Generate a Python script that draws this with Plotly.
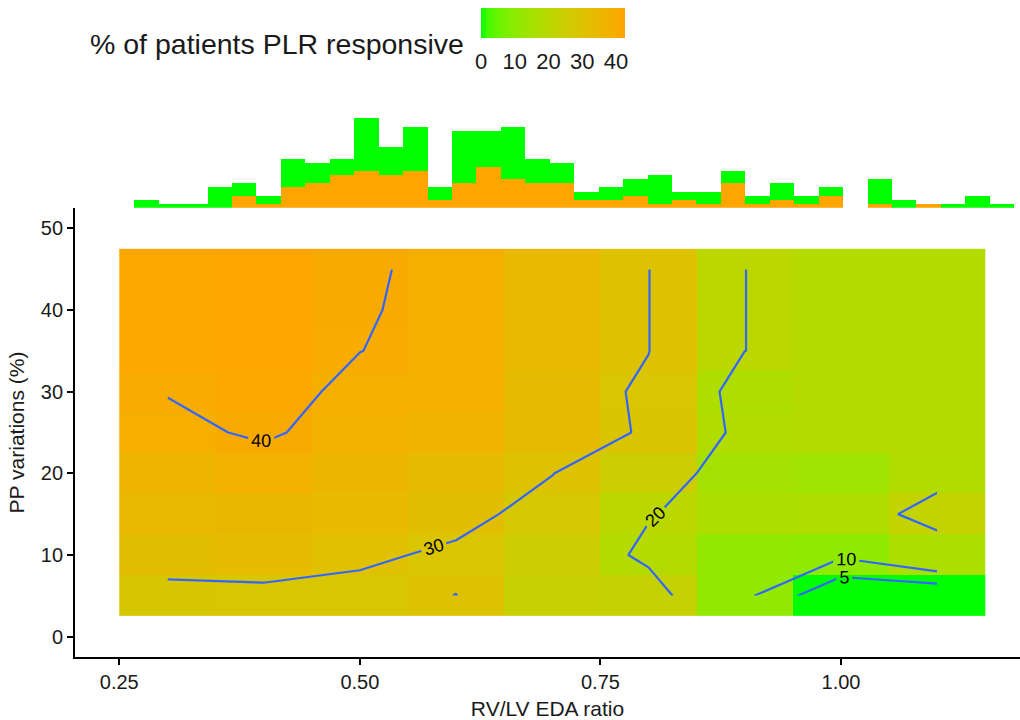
import plotly.graph_objects as go

# ---------------- data ----------------
x_ratio = [0.3, 0.4, 0.5, 0.6, 0.7, 0.8, 0.9, 1.0, 1.1]          # RV/LV EDA ratio (tile centres)
y_ppv = [5, 10, 15, 20, 25, 30, 35, 40, 45]                        # PP variations (%)
pct_responsive = [                                                  # rows = y_ppv, cols = x_ratio
    [28.3, 28.4, 28.5, 30.05, 23.5, 22.97, 11.1, 0.0, 0.0],
    [32.55, 33.4, 30.9, 29.1, 24.9, 18.7, 11.5, 10.87, 16.7],
    [34.5, 35.0, 34.0, 31.6, 28.0, 20.37, 16.7, 16.8, 22.2],
    [36.0, 38.1, 35.5, 33.0, 30.12, 25.0, 15.0, 14.0, 18.0],
    [38.97, 40.6, 38.1, 37.0, 33.2, 29.3, 17.7, 18.2, 18.6],
    [40.17, 41.8, 38.8, 38.5, 33.2, 29.0, 16.8, 18.5, 18.5],
    [41.5, 42.3, 40.05, 38.7, 34.5, 30.1, 20.02, 18.5, 18.5],
    [41.8, 42.7, 40.4, 38.7, 34.5, 30.1, 20.02, 18.5, 18.5],
    [41.8, 42.5, 40.6, 38.8, 34.5, 30.1, 20.02, 18.5, 18.5],
]
contour_main = dict(start=10, end=40, size=10)
contour_extra = 5

hist_bin_start = 0.2656
hist_bin_width = 0.0254
hist_total = [2, 1, 1, 5, 6, 3, 12, 11, 12, 22, 15, 20, 5, 19, 19, 20, 12, 11,
              4, 5, 7, 8, 4, 4, 9, 3, 6, 3, 5, 0, 7, 2, 1, 1, 3, 1]
hist_responsive = [0, 0, 0, 0, 3, 1, 5, 6, 8, 9, 8, 9, 2, 6, 10, 7, 6, 6,
                   2, 2, 3, 1, 2, 1, 6, 1, 2, 1, 3, 0, 1, 0, 1, 0, 0, 0]
hist_nonresp = [t - r for t, r in zip(hist_total, hist_responsive)]
hist_centres = [hist_bin_start + hist_bin_width * (i + 0.5) for i in range(len(hist_total))]

x_ticks = [0.25, 0.50, 0.75, 1.00]
y_ticks = [0, 10, 20, 30, 40, 50]
cb_ticks = [0, 10, 20, 30, 40]

LOW, HIGH = "#00FF00", "#FFA500"
RAMP_GAMMA = 0.92   # slight warm bias of the ramp, as seen in the tiles

# ---------------- Lab gradient (like ggplot scale_fill_gradient) ----------------
def _hex_to_lab(h):
    r, g, b = [int(h[i:i + 2], 16) / 255 for i in (1, 3, 5)]
    lin = lambda c: c / 12.92 if c <= 0.04045 else ((c + 0.055) / 1.055) ** 2.4
    R, G, B = lin(r), lin(g), lin(b)
    X = (0.4124 * R + 0.3576 * G + 0.1805 * B) / 0.95047
    Y = 0.2126 * R + 0.7152 * G + 0.0722 * B
    Z = (0.0193 * R + 0.1192 * G + 0.9505 * B) / 1.08883
    f = lambda t: t ** (1 / 3) if t > 0.008856 else 7.787 * t + 16 / 116
    fx, fy, fz = f(X), f(Y), f(Z)
    return 116 * fy - 16, 500 * (fx - fy), 200 * (fy - fz)

def _lab_to_hex(L, a, b):
    fy = (L + 16) / 116
    fx = fy + a / 500
    fz = fy - b / 200
    inv = lambda t: t ** 3 if t ** 3 > 0.008856 else (t - 16 / 116) / 7.787
    X, Y, Z = inv(fx) * 0.95047, inv(fy), inv(fz) * 1.08883
    R = 3.2406 * X - 1.5372 * Y - 0.4986 * Z
    G = -0.9689 * X + 1.8758 * Y + 0.0415 * Z
    B = 0.0557 * X - 0.2040 * Y + 1.0570 * Z
    gam = lambda c: 12.92 * c if c <= 0.0031308 else 1.055 * c ** (1 / 2.4) - 0.055
    out = [min(255, max(0, round(gam(max(0.0, c)) * 255))) for c in (R, G, B)]
    return "#%02X%02X%02X" % tuple(out)

l0, l1 = _hex_to_lab(LOW), _hex_to_lab(HIGH)
n_stops = 24
colorscale = []
for i in range(n_stops + 1):
    t = i / n_stops
    tt = t ** RAMP_GAMMA
    colorscale.append([t, _lab_to_hex(*[p + (q - p) * tt for p, q in zip(l0, l1)])])

FONT = "Liberation Sans, Arial, sans-serif"
TXT = "#1a1a1a"
PLOT_H = 720 - 63   # paper height in px (t=0, b=63)

# ---------------- figure ----------------
fig = go.Figure()

fig.add_trace(go.Heatmap(
    x=x_ratio, y=y_ppv, z=pct_responsive, zmin=0,
    colorscale=colorscale, zsmooth=False, hoverinfo="skip",
    colorbar=dict(
        orientation="h",
        x=(481 - 75) / 945, xanchor="left", y=1 - 8 / PLOT_H, yanchor="top",
        len=144, lenmode="pixels", thickness=30, thicknessmode="pixels",
        xpad=0, ypad=0, outlinewidth=0,
        tickvals=cb_ticks, ticks="outside", tickcolor="white", ticklen=5, tickwidth=1,
        tickfont=dict(family=FONT, size=22, color=TXT),
    ),
))

for spec in (contour_main, dict(start=contour_extra, end=contour_extra, size=contour_extra)):
    fig.add_trace(go.Contour(
        x=x_ratio, y=y_ppv, z=pct_responsive,
        autocontour=False, contours=dict(coloring="lines", showlabels=True,
                                         labelfont=dict(family=FONT, size=18, color="black"), **spec),
        colorscale=[[0, "#3366FF"], [1, "#3366FF"]], showscale=False,
        line=dict(width=2.2, smoothing=0), hoverinfo="skip",
    ))

fig.add_trace(go.Bar(x=hist_centres, y=hist_responsive, width=hist_bin_width,
                     marker=dict(color=HIGH, line=dict(width=0)), xaxis="x2", yaxis="y2",
                     showlegend=False, hoverinfo="skip"))
fig.add_trace(go.Bar(x=hist_centres, y=hist_nonresp, width=hist_bin_width,
                     marker=dict(color=LOW, line=dict(width=0)), xaxis="x2", yaxis="y2",
                     showlegend=False, hoverinfo="skip"))

fig.update_layout(
    width=1020, height=720, barmode="stack", bargap=0,
    margin=dict(l=75, r=0, t=0, b=63),
    paper_bgcolor="white", plot_bgcolor="white", showlegend=False,
    font=dict(family=FONT, color=TXT),
    xaxis=dict(range=[0.204, 1.186], domain=[0, 1], anchor="y",
               tickvals=x_ticks, tickformat=".2f", ticks="outside", ticklen=6, tickwidth=1.5,
               tickcolor="black", showline=True, linecolor="black", linewidth=1.8,
               showgrid=False, zeroline=False, tickfont=dict(size=20, color=TXT),
               title=dict(text="RV/LV EDA ratio", font=dict(size=21, color=TXT), standoff=9)),
    yaxis=dict(range=[-2.5, 52.5], domain=[0, 0.6834], anchor="x",
               tickvals=y_ticks, ticks="outside", ticklen=6, tickwidth=1.5,
               tickcolor="black", showline=True, linecolor="black", linewidth=1.8,
               showgrid=False, zeroline=False, tickfont=dict(size=20, color=TXT),
               title=dict(text="PP variations (%)", font=dict(size=21, color=TXT), standoff=10)),
    xaxis2=dict(matches="x", anchor="y2", domain=[0, 1], visible=False),
    yaxis2=dict(range=[0, 23.1], domain=[0.6838, 0.8265], anchor="x2", visible=False),
    annotations=[dict(text="% of patients PLR responsive", xref="paper", yref="paper",
                      x=(466 - 75) / 945, y=1 - 44 / PLOT_H, xanchor="right", yanchor="middle",
                      showarrow=False, font=dict(family=FONT, size=28.5, color=TXT))],
)

fig.write_html("out.html", config={"displayModeBar": False},
               post_script="document.body.style.margin='0px';")
